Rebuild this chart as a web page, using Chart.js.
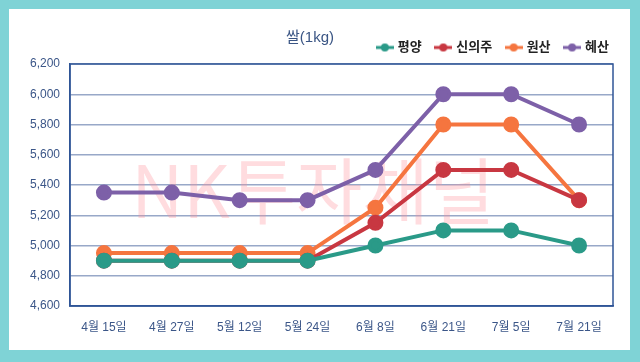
<!DOCTYPE html>
<html><head><meta charset="utf-8">
<script src="https://cdn.jsdelivr.net/npm/chart.js@4.4.0/dist/chart.umd.min.js"></script>
<style>
html,body{margin:0;padding:0;background:#7fd3d6;width:640px;height:362px;overflow:hidden}
#wrap{position:absolute;left:9px;top:9px;width:621px;height:341px;background:#fff}
</style></head><body>
<div id="wrap"><canvas id="c" width="621" height="341"></canvas></div>
<script>
const categories = ['4월 15일','4월 27일','5월 12일','5월 24일','6월 8일','6월 21일','7월 5일','7월 21일'];
const pyongyang = [4900,4900,4900,4900,5000,5100,5100,5000];
const sinuiju   = [4900,4900,4900,4900,5150,5500,5500,5300];
const wonsan    = [4950,4950,4950,4950,5250,5800,5800,5300];
const hyesan    = [5350,5350,5300,5300,5500,6000,6000,5800];
const seriesNames = ['평양','신의주','원산','혜산'];
const colors = ['#2a9a88','#c83741','#f5753f','#7d60a8'];
const titleText = '쌀(1kg)';
const watermark = 'NK투자채널';

const FONT = "'Liberation Sans', 'Noto Sans CJK KR', sans-serif";

function legendIcon(col){
  const cv = document.createElement('canvas');
  cv.width = 18; cv.height = 10;
  const g = cv.getContext('2d');
  g.strokeStyle = col; g.lineWidth = 3;
  g.beginPath(); g.moveTo(0,5); g.lineTo(18,5); g.stroke();
  g.fillStyle = col; g.beginPath(); g.arc(9,5,4,0,Math.PI*2); g.fill();
  return cv;
}

const extras = {
  id:'extras',
  afterLayout(chart){
    if(chart.legend){ chart.legend.left += 11; chart.legend.right += 11; }
  },
  beforeDatasetsDraw(chart){
    const {ctx, chartArea:a} = chart;
    ctx.save();
    ctx.font = "72px 'Noto Sans CJK KR', sans-serif";
    ctx.fillStyle = 'rgba(255,140,150,0.3)';
    ctx.textAlign = 'center'; ctx.textBaseline = 'middle';
    ctx.fillText(watermark, 304, 182);
    ctx.strokeStyle = '#2f5597'; ctx.lineWidth = 1.5;
    ctx.strokeRect(a.left, a.top, a.right-a.left, a.bottom-a.top);
    ctx.restore();
  },
  afterDraw(chart){
    const ctx = chart.ctx;
    ctx.save();
    ctx.font = "15px " + FONT;
    ctx.fillStyle = '#3a5584';
    ctx.textAlign = 'center'; ctx.textBaseline = 'middle';
    ctx.fillText(titleText, 301, 29);
    ctx.restore();
  }
};

const data = [pyongyang, sinuiju, wonsan, hyesan];
new Chart(document.getElementById('c'), {
  type:'line',
  data:{
    labels:categories,
    datasets: data.map((d,i)=>({
      label:seriesNames[i], data:d,
      borderColor:colors[i], backgroundColor:colors[i],
      borderWidth:4, pointRadius:6, pointHoverRadius:6,
      pointStyle:'circle', tension:0,
      pointBackgroundColor:colors[i], pointBorderColor:colors[i]
    }))
  },
  options:{
    responsive:false, animation:false,
    layout:{padding:{top:17,right:17,left:0,bottom:0}},
    plugins:{
      title:{display:false},
      tooltip:{enabled:false},
      legend:{
        position:'top', align:'end',
        labels:{
          usePointStyle:true,
          generateLabels(chart){
            return chart.data.datasets.map((ds,i)=>({
              text:ds.label, pointStyle:legendIcon(colors[i]),
              fillStyle:colors[i], strokeStyle:colors[i], lineWidth:0,
              hidden:false, datasetIndex:i, fontColor:'#222'
            }));
          },
          font:{family:FONT, size:13, weight:'bold'},
          color:'#222', padding:15, boxWidth:18, boxHeight:10
        }
      }
    },
    scales:{
      x:{
        offset:true,
        grid:{display:false, drawTicks:false},
        border:{display:true, color:'#2f5597', width:1.5},
        ticks:{color:'#3b5688', font:{family:FONT, size:12}, padding:14, maxRotation:0},
        afterFit(s){ s.height = 44; }
      },
      y:{
        min:4600, max:6200,
        grid:{color:'#98a8c8', lineWidth:1.5, drawTicks:false},
        border:{display:true, color:'#2f5597', width:1.5},
        ticks:{stepSize:200, color:'#3b5688', font:{family:FONT, size:12}, padding:10,
          callback:v=>v.toLocaleString('en-US')},
        afterFit(s){ s.width = 61; }
      }
    }
  },
  plugins:[extras]
});
</script>
</body></html>
